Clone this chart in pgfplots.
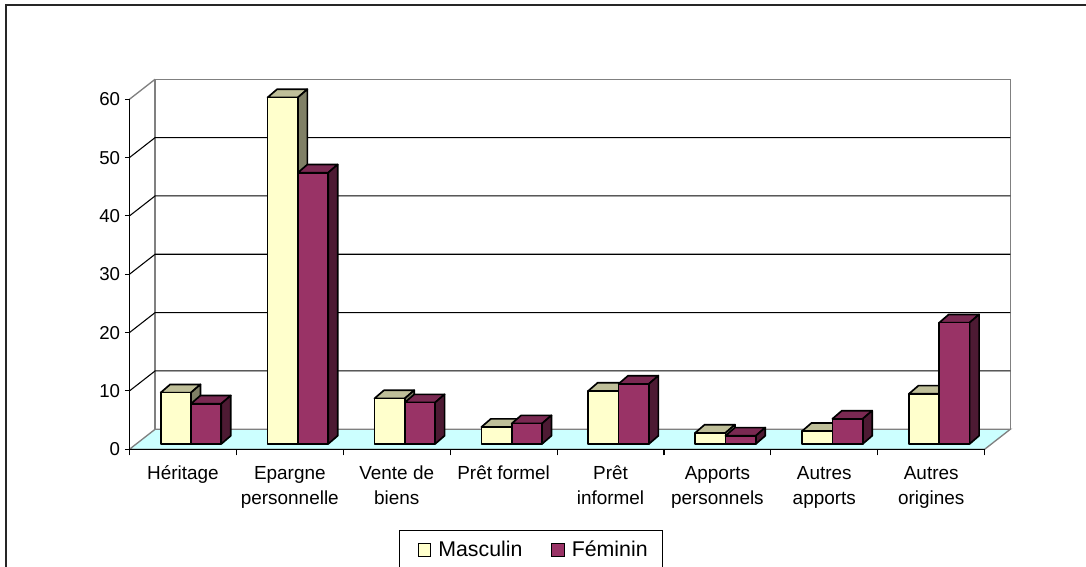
\documentclass[border=0pt]{standalone}
\usepackage{pgfplots}
\pgfplotsset{compat=1.18}
\usepackage{fontspec}
\setmainfont{Liberation Sans}

\definecolor{mascfront}{HTML}{FFFFCC}
\definecolor{masctop}{HTML}{BFBF99}
\definecolor{mascside}{HTML}{808066}
\definecolor{femfront}{HTML}{993366}
\definecolor{femtop}{HTML}{7A2952}
\definecolor{femside}{HTML}{4D1A33}
\definecolor{floorcol}{HTML}{CCFFFF}
\definecolor{wallgray}{HTML}{808080}

\def\bw{0.2835}   % bar width, in categories
\def\bdx{0.0889}  % bar depth
\def\bdy{1.406}
\def\ybase{0.91}  % bars stand a little behind the front edge
\def\wdx{0.24}    % wall depth
\def\wdy{3.43}

% one 3d bar: left edge, value, front, top and side colours
\newcommand{\onebar}[5]{%
  \pgfmathsetmacro\xl{#1}%
  \pgfmathsetmacro\xr{#1+\bw}%
  \pgfmathsetmacro\xld{#1+\bdx}%
  \pgfmathsetmacro\xrd{#1+\bw+\bdx}%
  \pgfmathsetmacro\yt{\ybase+#2}%
  \pgfmathsetmacro\ytd{\ybase+#2+\bdy}%
  \pgfmathsetmacro\ybd{\ybase+\bdy}%
  \edef\temp{%
    \noexpand\addplot[barface,fill=#4] coordinates {(\xl,\yt) (\xr,\yt) (\xrd,\ytd) (\xld,\ytd)} --cycle;
    \noexpand\addplot[barface,fill=#5] coordinates {(\xr,\ybase) (\xrd,\ybd) (\xrd,\ytd) (\xr,\yt)} --cycle;
    \noexpand\addplot[barface,fill=#3] coordinates {(\xl,\ybase) (\xr,\ybase) (\xr,\yt) (\xl,\yt)} --cycle;
  }\temp
}
% one category: index, Masculin, Feminin
\newcommand{\twobars}[3]{%
  \pgfmathsetmacro\xm{#1+0.292}%
  \pgfmathsetmacro\xf{#1+0.292+\bw}%
  \onebar{\xm}{#2}{mascfront}{masctop}{mascside}%
  \onebar{\xf}{#3}{femfront}{femtop}{femside}%
}
% one gridline on the left wall and the back wall
\newcommand{\gridl}[2]{%
  \pgfmathsetmacro\yb{#1+\wdy}%
  \edef\temp{\noexpand\addplot[forget plot,#2,line width=0.8pt] coordinates {(0,#1) (\wdx,\yb) (8.24,\yb)};}\temp
}

\begin{document}
\begin{tikzpicture}
\path[use as bounding box,clip] (0,0) rectangle (814.5pt,425.25pt);
\begin{axis}[
    at={(97.1pt,88.3pt)},
    anchor=south west,
    scale only axis,
    width=641.4pt,
    height=262.5pt,
    xmin=0, xmax=8,
    ymin=0, ymax=60,
    clip=false,
    axis on top,
    axis x line=bottom,
    axis y line=left,
    axis line style={-,line width=0.9pt},
    xtick={0.5,1.5,2.5,3.5,4.5,5.5,6.5,7.5},
    xticklabels={Héritage,Epargne\\personnelle,Vente de\\biens,Prêt formel,Prêt\\informel,Apports\\personnels,Autres\\apports,Autres\\origines},
    minor xtick={0,1,2,3,4,5,6,7,8},
    major x tick style={draw=none},
    minor tick length=4.5pt,
    ytick={0,10,20,30,40,50,60},
    major tick length=3.5pt,
    tick align=outside,
    tick style={black,line width=0.8pt},
    x tick label style={font=\fontsize{14.2}{18.75}\selectfont,align=center,anchor=north,yshift=-5.5pt},
    y tick label style={font=\fontsize{14}{17}\selectfont},
    /pgf/number format/assume math mode=true,
    legend columns=2,
    legend style={
        at={(axis description cs:0.4695,-0.2306)},anchor=north,
        draw=black,line width=0.9pt,
        font=\fontsize{16}{19}\selectfont,
        inner xsep=9pt,inner ysep=6pt,
        /tikz/every even column/.style={column sep=15pt},
    },
    legend cell align=left,
    legend image code/.code={
        \draw[#1,line width=0.8pt] (0pt,-4.6pt) rectangle (9.2pt,4.6pt);
        \path[draw=none,fill=none] (-5pt,0pt) -- (13pt,0pt);
    },
    barface/.style={forget plot,draw=black,line width=1.25pt,line join=round},
]
% walls and floor
\addplot[forget plot,fill=floorcol,draw=wallgray,line width=1pt] coordinates {(0,0) (8,0) (8.24,3.43) (0.24,3.43)} --cycle;
\addplot[forget plot,wallgray,line width=1pt] coordinates {(0.24,3.43) (0.24,63.43) (8.24,63.43) (8.24,3.43)};
\gridl{10}{black}
\gridl{20}{black}
\gridl{30}{black}
\gridl{40}{black}
\gridl{50}{black}
\addplot[forget plot,wallgray,line width=1pt] coordinates {(0,60) (0.24,63.43)};
% bars
\twobars{0}{8.8}{6.9}
\twobars{1}{59.4}{46.5}
\twobars{2}{7.8}{7.1}
\twobars{3}{2.9}{3.5}
\twobars{4}{9.1}{10.3}
\twobars{5}{1.9}{1.4}
\twobars{6}{2.2}{4.3}
\twobars{7}{8.6}{20.8}
\addlegendimage{fill=mascfront,draw=black}
\addlegendentry{Masculin}
\addlegendimage{fill=femfront,draw=black}
\addlegendentry{Féminin}
\end{axis}
% outer frame: only left and top edges are on the page
\draw[black!85,line width=1.5pt] (4.8pt,-5pt) -- (4.8pt,421.3pt) -- (820pt,421.3pt);
\end{tikzpicture}
\end{document}
